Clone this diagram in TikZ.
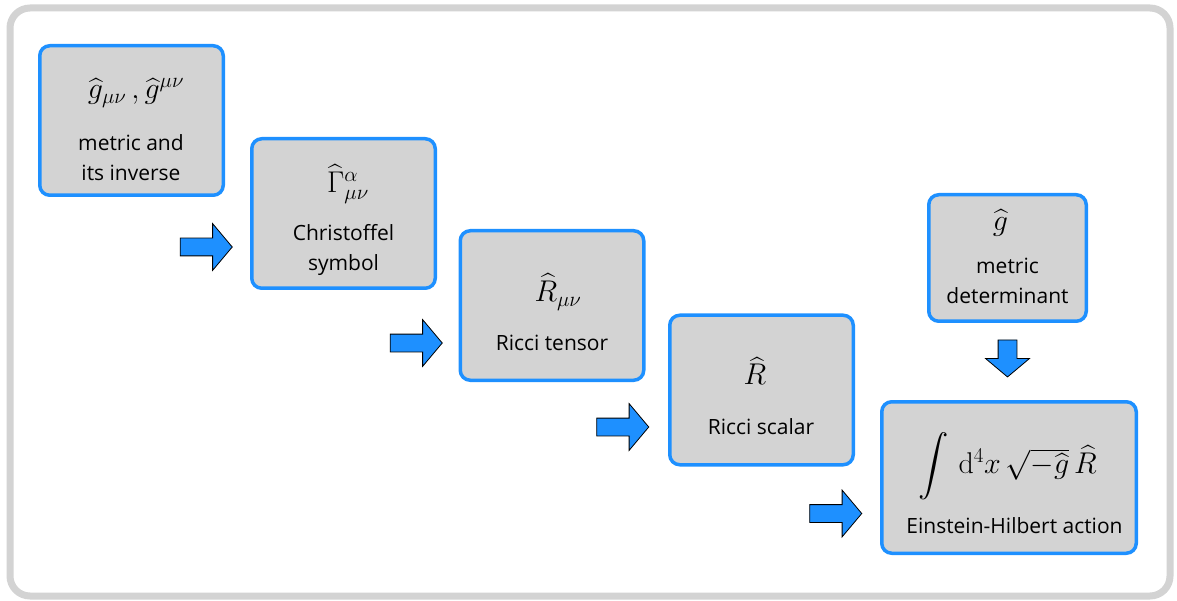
\RequirePackage{fix-cm}
\documentclass[tikz,border=0pt]{standalone}
\usepackage{amsmath}
\usepackage{graphicx}
\usepackage[no-math]{fontspec}
\setmainfont{Open Sans}
\usetikzlibrary{shapes.arrows}
\definecolor{stageblue}{HTML}{1E90FF}
\definecolor{stagegray}{HTML}{D3D3D3}
\newcommand{\bigint}{\mathop{\vcenter{\hbox{\scalebox{1.22}{$\displaystyle\int$}}}}}
\tikzset{
  stage/.style={draw=stageblue, fill=stagegray, line width=3.5pt, rounded corners=10pt,
    minimum width=183.5pt, minimum height=149.5pt, inner sep=0pt},
  sym/.style={font=\fontsize{30}{36}\selectfont, inner sep=0pt},
  txt/.style={align=center, font=\fontsize{21}{30}\selectfont, inner sep=0pt},
  flow/.style={single arrow, draw=black, fill=stageblue, line width=0.8pt,
    inner xsep=0pt, inner ysep=8.5pt,
    minimum height=52pt, minimum width=46pt, single arrow head extend=14.5pt,
    single arrow tip angle=100},
}

\begin{document}
\begin{tikzpicture}[x=1pt, y=-1pt]
\useasboundingbox (0,0) rectangle (1177,601);
\draw[stagegray, line width=7pt, rounded corners=20pt] (10,8) rectangle (1170,596);

% the chain of quantities
\node[stage] (metric) at (131.5,120.5) {};
\node[sym] (metric-sym) at (136,93) {$\widehat{g}_{\mu\nu}\,,\widehat{g}^{\mu\nu}$};
\node[txt] (metric-txt) at (131,158) {metric and\\its inverse};

\node[stage] (christ) at (343.5,213.5) {};
\node[sym] (christ-sym) at (348,184) {$\widehat{\Gamma}^{\alpha}_{\mu\nu}$};
\node[txt] (christ-txt) at (343.5,250) {Christoffel\\symbol};

\node[stage] (ricci) at (552,305.5) {};
\node[sym] (ricci-sym) at (558,292) {$\widehat{R}_{\mu\nu}$};
\node[txt] (ricci-txt) at (552,343) {Ricci tensor};

\node[stage] (scalar) at (761.5,390) {};
\node[sym] (scalar-sym) at (755,371) {$\widehat{R}$};
\node[txt] (scalar-txt) at (761,427) {Ricci scalar};

\node[stage, minimum width=157.5pt, minimum height=126.5pt] (det) at (1007.5,258) {};
\node[sym] (det-sym) at (1000.5,223) {$\widehat{g}$};
\node[txt] (det-txt) at (1007.5,281) {metric\\determinant};

\node[stage, minimum width=254.5pt, minimum height=151.5pt] (action) at (1009,477.5) {};
\node[sym] (action-sym) at (1007.5,466)
  {$\bigint\,\mathrm{d}^4x\,\sqrt{-\widehat{g}}\,\widehat{R}$};
\node[txt] (action-txt) at (1014.5,526) {Einstein-Hilbert action};

% flow arrows
\node[flow] (a1) at (202.5,247) {};
\node[flow] (a2) at (412.5,343) {};
\node[flow] (a3) at (619,427) {};
\node[flow] (a4) at (832,513.5) {};
\node[flow, rotate=-90, inner ysep=9pt, minimum height=37pt, minimum width=43pt,
  single arrow head extend=12.5pt] (a5) at (1007.5,354.5) {};
\end{tikzpicture}
\end{document}
